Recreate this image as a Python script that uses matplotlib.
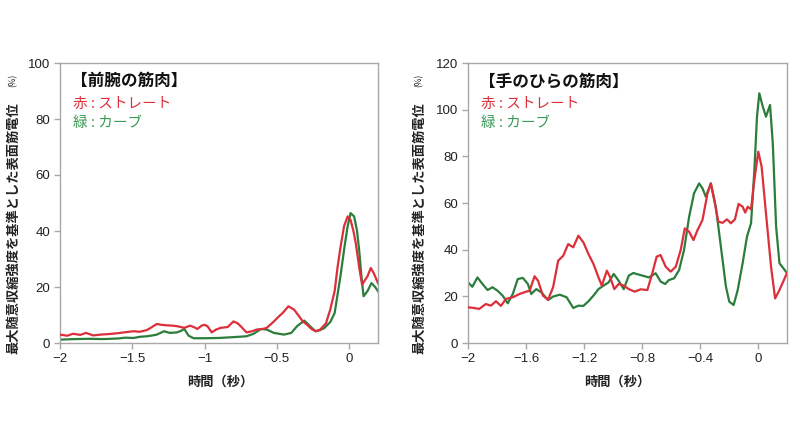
import matplotlib
matplotlib.use("Agg")
import matplotlib.pyplot as plt

plt.rcParams['font.family'] = ['Noto Sans CJK JP', 'DejaVu Sans']

# ---- Left panel: forearm muscle ----
fore_red_x = [-2.0, -1.95, -1.91, -1.86, -1.82, -1.77, -1.72, -1.66, -1.6, -1.54, -1.49, -1.45, -1.40, -1.37,
              -1.33, -1.30, -1.26, -1.22, -1.19, -1.14, -1.10, -1.07, -1.05, -1.02, -1.0, -0.98, -0.95, -0.92,
              -0.89, -0.84, -0.80, -0.77, -0.75, -0.71, -0.67, -0.64, -0.60, -0.57, -0.52, -0.49, -0.46, -0.42,
              -0.38, -0.35, -0.32, -0.29, -0.26, -0.23, -0.20, -0.16, -0.13, -0.10, -0.08, -0.06, -0.035, -0.01,
              0.01, 0.03, 0.046, 0.07, 0.09, 0.11, 0.127, 0.15, 0.17, 0.2]
fore_red_y = [3.0, 2.6, 3.3, 2.9, 3.6, 2.7, 3.0, 3.2, 3.5, 3.9, 4.2, 4.0, 4.6, 5.5,
              6.8, 6.5, 6.3, 6.2, 6.0, 5.4, 6.2, 5.6, 5.0, 6.2, 6.5, 6.0, 3.8, 4.8,
              5.4, 5.7, 7.7, 7.0, 6.0, 3.8, 4.2, 4.8, 5.0, 5.4, 7.7, 9.3, 10.7, 13.1,
              11.9, 9.8, 7.7, 6.5, 5.0, 4.2, 4.8, 7.0, 12.0, 18.5, 27.0, 34.0, 41.7, 45.2,
              44.0, 40.0, 35.7, 27.0, 20.8, 22.5, 23.8, 26.8, 25.0, 21.4]
fore_green_x = [-2.0, -1.9, -1.8, -1.7, -1.6, -1.55, -1.49, -1.45, -1.40, -1.36, -1.33, -1.28, -1.24, -1.19,
                -1.16, -1.14, -1.11, -1.075, -1.0, -0.9, -0.8, -0.71, -0.66, -0.61, -0.57, -0.52, -0.45, -0.40,
                -0.36, -0.31, -0.28, -0.25, -0.23, -0.20, -0.17, -0.13, -0.10, -0.06, -0.03, -0.01, 0.01, 0.035,
                0.055, 0.07, 0.085, 0.10, 0.127, 0.155, 0.18, 0.2]
fore_green_y = [1.2, 1.4, 1.5, 1.4, 1.6, 1.9, 1.8, 2.2, 2.4, 2.7, 3.0, 4.2, 3.6, 3.8,
                4.4, 5.0, 2.6, 1.7, 1.7, 1.8, 2.1, 2.4, 3.3, 5.0, 4.8, 3.6, 3.0, 3.6,
                6.0, 8.0, 6.5, 5.0, 4.2, 4.6, 5.4, 7.5, 10.7, 23.8, 35.0, 41.7, 46.4, 45.2,
                40.0, 33.0, 24.0, 16.7, 18.5, 21.4, 20.0, 18.5]

# ---- Right panel: palm muscle ----
palm_red_x = [-2.0, -1.958, -1.923, -1.877, -1.842, -1.807, -1.773, -1.738, -1.691, -1.645, -1.599, -1.575,
              -1.541, -1.517, -1.483, -1.448, -1.413, -1.378, -1.343, -1.309, -1.274, -1.239, -1.204, -1.169,
              -1.135, -1.1, -1.077, -1.042, -1.019, -0.991, -0.961, -0.926, -0.891, -0.85, -0.81, -0.763,
              -0.729, -0.699, -0.672, -0.637, -0.602, -0.567, -0.533, -0.505, -0.475, -0.445, -0.417, -0.383,
              -0.348, -0.325, -0.302, -0.274, -0.244, -0.214, -0.187, -0.159, -0.134, -0.106, -0.088, -0.071,
              -0.048, -0.025, 0.002, 0.025, 0.055, 0.09, 0.118, 0.148, 0.2]
palm_red_y = [15.3, 15.0, 14.6, 16.7, 16.0, 17.9, 15.9, 18.9, 19.6, 21.0, 22.0, 22.4,
              28.6, 26.7, 20.3, 18.6, 23.9, 35.3, 37.4, 42.4, 41.0, 46.0, 43.1, 38.1,
              33.9, 28.1, 24.6, 31.0, 28.1, 23.1, 25.3, 24.6, 23.1, 22.0, 23.0, 22.7,
              29.9, 37.0, 37.7, 32.7, 30.6, 32.7, 39.9, 49.1, 47.7, 44.1, 48.4, 52.7,
              64.2, 68.4, 61.3, 52.0, 51.5, 53.0, 51.3, 53.0, 59.6, 58.4, 55.9, 58.4,
              57.3, 69.9, 82.0, 75.6, 55.6, 32.7, 19.1, 22.7, 30.0]
palm_green_x = [-2.0, -1.97, -1.935, -1.9, -1.865, -1.831, -1.796, -1.761, -1.726, -1.691, -1.657, -1.622,
                -1.587, -1.564, -1.529, -1.494, -1.448, -1.413, -1.367, -1.32, -1.274, -1.239, -1.204, -1.169,
                -1.135, -1.1, -1.065, -1.03, -0.995, -0.961, -0.926, -0.891, -0.86, -0.81, -0.752, -0.706,
                -0.671, -0.64, -0.614, -0.579, -0.544, -0.51, -0.475, -0.441, -0.406, -0.383, -0.36, -0.325,
                -0.291, -0.256, -0.221, -0.198, -0.168, -0.14, -0.106, -0.076, -0.048, -0.025, -0.007, 0.009,
                0.033, 0.055, 0.083, 0.102, 0.125, 0.148, 0.2]
palm_green_y = [26.0, 24.1, 28.1, 25.3, 22.7, 23.9, 22.4, 20.3, 17.0, 21.0, 27.4, 27.9,
                25.3, 21.0, 23.1, 21.7, 18.4, 19.9, 20.7, 19.6, 15.0, 16.0, 15.9, 17.9,
                20.3, 23.1, 24.6, 26.0, 29.6, 26.7, 23.1, 28.9, 30.0, 29.1, 28.1, 29.9,
                26.3, 25.3, 27.0, 27.7, 31.3, 39.9, 54.1, 64.2, 68.4, 66.3, 62.7, 68.4,
                58.4, 41.3, 24.1, 17.7, 16.3, 22.7, 34.2, 45.6, 51.3, 74.1, 97.0, 107.0,
                101.3, 97.0, 102.0, 85.6, 49.8, 34.2, 30.0]

fore_xticks = [-2, -1.5, -1, -0.5, 0]
fore_xticklabels = ['−2', '−1.5', '−1', '−0.5', '0']
fore_yticks = [0, 20, 40, 60, 80, 100]
palm_xticks = [-2, -1.6, -1.2, -0.8, -0.4, 0]
palm_xticklabels = ['−2', '−1.6', '−1.2', '−0.8', '−0.4', '0']
palm_yticks = [0, 20, 40, 60, 80, 100, 120]

titles = ['【前腕の筋肉】', '【手のひらの筋肉】']
red_label = '赤 : ストレート'
green_label = '緑 : カーブ'
xlabel = '時間（秒）'
ylabel = '最大随意収縮強度を基準とした表面筋電位'

RED = '#dc2f3a'
GREEN = '#2b7d3c'
GREEN_TXT = '#3a9a55'
SPINE = '#a8a8a8'

fig = plt.figure(figsize=(8, 4.3), dpi=100)
W, H = 800, 430
axL = fig.add_axes([60 / W, 1 - 343 / H, 318 / W, 280 / H])
axR = fig.add_axes([468 / W, 1 - 343 / H, 319 / W, 280 / H])

panels = [
    (axL, fore_red_x, fore_red_y, fore_green_x, fore_green_y, fore_xticks, fore_xticklabels, fore_yticks, 100),
    (axR, palm_red_x, palm_red_y, palm_green_x, palm_green_y, palm_xticks, palm_xticklabels, palm_yticks, 120),
]
for i, (ax, rx, ry, gx, gy, xt, xtl, yt, ymax) in enumerate(panels):
    assert len(rx) == len(ry) and len(gx) == len(gy)
    ax.plot(rx, ry, color=RED, lw=1.6, zorder=3, solid_joinstyle='round')
    ax.plot(gx, gy, color=GREEN, lw=1.6, zorder=2, solid_joinstyle='round')
    ax.set_xlim(-2, 0.2)
    ax.set_ylim(0, ymax)
    ax.set_xticks(xt)
    ax.set_xticklabels(xtl, family=['Liberation Sans', 'DejaVu Sans'])
    ax.set_yticks(yt)
    ax.set_yticklabels([str(v) for v in yt], family=['Liberation Sans', 'DejaVu Sans'])
    ax.tick_params(axis='both', labelsize=9.5, color=SPINE, length=4, width=1, labelcolor='#222222', pad=3)
    for s in ax.spines.values():
        s.set_color(SPINE)
        s.set_linewidth(1.0)
    ax.text(0.035, 0.935, titles[i], transform=ax.transAxes, fontsize=12, color='#111111',
            fontweight='bold', ha='left', va='center')
    ax.text(0.04, 0.855, red_label, transform=ax.transAxes, fontsize=10.5, color=RED,
            ha='left', va='center')
    ax.text(0.04, 0.785, green_label, transform=ax.transAxes, fontsize=10.5, color=GREEN_TXT,
            ha='left', va='center')

# axis labels
for cx, lx in [(220, 13), (617, 419)]:
    fig.text(cx / W, 1 - 382 / H, xlabel, ha='center', va='center', fontsize=9.5, fontweight='bold',
             color='#222222')
    fig.text(lx / W, 1 - 228 / H, ylabel, ha='center', va='center', rotation=90, fontsize=9.5,
             fontweight='bold', color='#222222')
    fig.text(lx / W, 1 - 80 / H, '(%)', ha='center', va='center', rotation=90, fontsize=6,
             color='#222222')

fig.savefig('out.png', dpi=100)
